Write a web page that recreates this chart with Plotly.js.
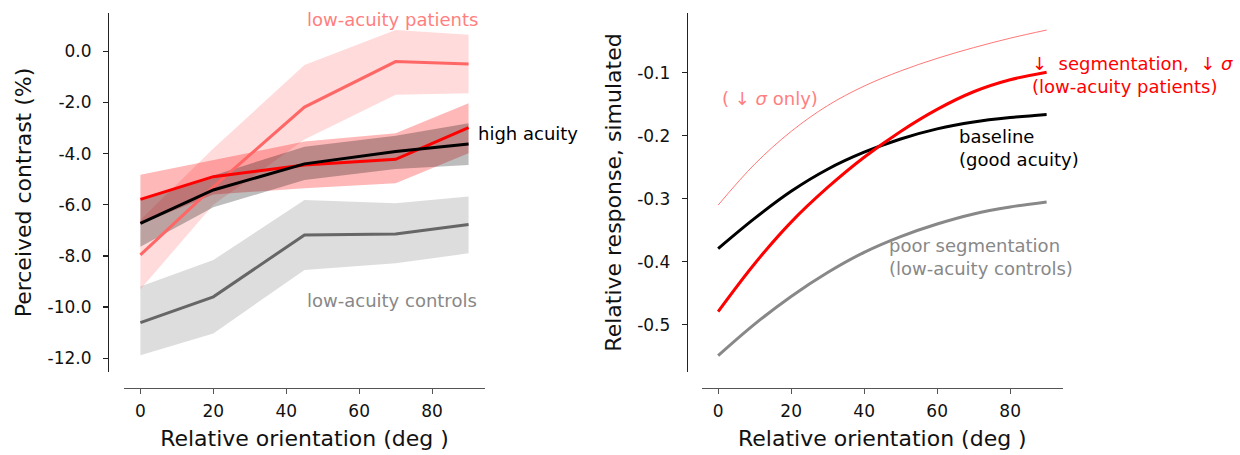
<!DOCTYPE html>
<html>
<head>
<meta charset="utf-8">
<script src="https://cdn.plot.ly/plotly-3.0.1.min.js"></script>
<style>html,body{margin:0;padding:0;background:#fff;}#chart{width:1240px;height:455px;}</style>
</head>
<body>
<div id="chart"></div>
<script>
// ---- Left panel: measured perceived contrast ----
var orientations = [0, 20, 45, 70, 90];
var patientsMean  = [-7.96, -5.3, -2.18, -0.40, -0.49];
var patientsUpper = [-6.6, -3.8, -0.53, 0.84, 0.65];
var patientsLower = [-9.3, -6.0, -3.45, -1.70, -1.64];
var redMean  = [-5.79, -4.90, -4.44, -4.22, -2.98];
var redUpper = [-4.83, -4.26, -3.53, -3.2, -2.03];
var redLower = [-6.75, -5.6, -5.35, -5.16, -3.98];
var highMean  = [-6.73, -5.42, -4.40, -3.92, -3.62];
var highUpper = [-5.83, -4.85, -3.73, -3.3, -2.81];
var highLower = [-7.64, -6.1, -5.03, -4.6, -4.44];
var controlsMean  = [-10.61, -9.60, -7.18, -7.14, -6.77];
var controlsUpper = [-9.2, -8.16, -5.81, -5.94, -5.68];
var controlsLower = [-11.88, -11.03, -8.55, -8.29, -7.9];
var leftYTicks = [0, -2, -4, -6, -8, -10, -12];
var leftYTickText = ["0.0", "-2.0", "-4.0", "-6.0", "-8.0", "-10.0", "-12.0"];
var xTicks = [0, 20, 40, 60, 80];

// ---- Right panel: simulated relative response ----
var simX = [0, 10, 20, 30, 40, 50, 60, 70, 80, 90];
var sigmaOnly    = [-0.310, -0.245, -0.193, -0.152, -0.121, -0.097, -0.077, -0.060, -0.045, -0.032];
var segSigma     = [-0.479, -0.403, -0.337, -0.282, -0.234, -0.193, -0.158, -0.130, -0.111, -0.099];
var baseline     = [-0.379, -0.331, -0.288, -0.253, -0.226, -0.205, -0.189, -0.178, -0.171, -0.166];
var poorSeg      = [-0.549, -0.499, -0.455, -0.417, -0.385, -0.360, -0.340, -0.324, -0.313, -0.305];
var rightYTicks = [-0.1, -0.2, -0.3, -0.4, -0.5];
var rightYTickText = ["-0.1", "-0.2", "-0.3", "-0.4", "-0.5"];

function band(xs, up, lo, color, xa, ya) {
  return {x: xs.concat(xs.slice().reverse()), y: up.concat(lo.slice().reverse()),
    fill: 'toself', fillcolor: color, line: {width: 0}, mode: 'lines',
    hoverinfo: 'skip', showlegend: false, xaxis: xa, yaxis: ya};
}
function line(xs, ys, color, w, xa, ya, shape) {
  return {x: xs, y: ys, mode: 'lines', line: {color: color, width: w, shape: shape || 'linear'},
    showlegend: false, xaxis: xa, yaxis: ya};
}

var traces = [
  band(orientations, controlsUpper, controlsLower, 'rgba(128,128,128,0.27)', 'x', 'y'),
  band(orientations, patientsUpper, patientsLower, 'rgba(255,90,90,0.22)', 'x', 'y'),
  band(orientations, redUpper, redLower, 'rgba(255,0,0,0.28)', 'x', 'y'),
  band(orientations, highUpper, highLower, 'rgba(0,0,0,0.26)', 'x', 'y'),
  line(orientations, controlsMean, '#666666', 3, 'x', 'y'),
  line(orientations, patientsMean, '#ff6666', 3, 'x', 'y'),
  line(orientations, redMean, '#ff0000', 3, 'x', 'y'),
  line(orientations, highMean, '#000000', 3, 'x', 'y'),
  line(simX, sigmaOnly, '#ff7777', 1, 'x2', 'y2', 'spline'),
  line(simX, poorSeg, '#888888', 3, 'x2', 'y2', 'spline'),
  line(simX, baseline, '#000000', 3, 'x2', 'y2', 'spline'),
  line(simX, segSigma, '#ff0000', 3, 'x2', 'y2', 'spline')
];

var F = 'DejaVu Sans, sans-serif';
var TS = 17;
var titleFont = {family: F, size: 22, color: '#111'};
var annSize = 18;

function xAxis(domain) {
  return {domain: domain, range: [-4.5, 94.5], tickvals: xTicks, ticks: 'outside', ticklen: 5, tickwidth: 1.2,
    tickcolor: '#555', showline: true, linecolor: '#555', linewidth: 1.3, showgrid: false, zeroline: false,
    tickfont: {family: F, size: TS, color: '#111'}, anchor: 'free', position: 0.148, ticklabelstandoff: 3,
    title: {text: 'Relative orientation (deg )', font: titleFont, standoff: 10}};
}
function yAxis(range, vals, txt, pos, title) {
  return {domain: [0.1824, 0.9714], range: range, tickmode: 'array', tickvals: vals, ticktext: txt,
    ticks: 'outside', ticklen: 5, tickwidth: 1.2, tickcolor: '#222',
    showline: true, linecolor: '#222', linewidth: 1.3, showgrid: false, zeroline: false,
    tickfont: {family: F, size: TS, color: '#111'}, anchor: 'free', position: pos, ticklabelstandoff: 8,
    title: {text: title, font: titleFont, standoff: 8}};
}

var layout = {
  width: 1240, height: 455,
  margin: {l: 0, r: 0, t: 0, b: 0},
  font: {family: F, size: TS, color: '#111'},
  paper_bgcolor: '#fff', plot_bgcolor: '#fff',
  showlegend: false,
  xaxis: xAxis([0.1, 0.3911]),
  yaxis: yAxis([-12.54, 1.5], leftYTicks, leftYTickText, 0.0871, 'Perceived contrast (%)'),
  xaxis2: xAxis([0.5659, 0.8573]),
  yaxis2: yAxis([-0.575, -0.005], rightYTicks, rightYTickText, 0.5538, 'Relative response, simulated'),
  annotations: [
    {text: 'low-acuity patients', x: 45.1, y: 1.23, xref: 'x', yref: 'y', xanchor: 'left', yanchor: 'middle',
      showarrow: false, font: {family: F, size: annSize, color: '#ff7f7f'}},
    {text: 'high acuity', x: 92.1, y: -3.23, xref: 'x', yref: 'y', xanchor: 'left', yanchor: 'middle',
      showarrow: false, font: {family: F, size: annSize, color: '#000'}},
    {text: 'low-acuity controls', x: 45.1, y: -9.73, xref: 'x', yref: 'y', xanchor: 'left', yanchor: 'middle',
      showarrow: false, font: {family: F, size: annSize, color: '#888'}},
    {text: '( \u2193 <i>σ</i> only)', x: 0.5, y: -0.140, xref: 'x2', yref: 'y2', xanchor: 'left', yanchor: 'middle',
      showarrow: false, font: {family: F, size: annSize, color: '#ff8080'}},
    {text: '\u2193\u00a0\u00a0segmentation,\u00a0\u00a0\u2193\u00a0<i>σ</i><br>(low-acuity patients)', x: 85.5, y: -0.1037,
      xref: 'x2', yref: 'y2', xanchor: 'left', yanchor: 'middle', align: 'left',
      showarrow: false, font: {family: F, size: annSize, color: '#ff0000'}},
    {text: 'baseline<br>(good acuity)', x: 65.4, y: -0.2187, xref: 'x2', yref: 'y2', xanchor: 'left', yanchor: 'middle',
      align: 'left', showarrow: false, font: {family: F, size: annSize, color: '#000'}},
    {text: 'poor segmentation<br>(low-acuity controls)', x: 46.4, y: -0.3925, xref: 'x2', yref: 'y2', xanchor: 'left',
      yanchor: 'middle', align: 'left', showarrow: false, font: {family: F, size: annSize, color: '#888'}}
  ]
};

Plotly.newPlot('chart', traces, layout, {displayModeBar: false, staticPlot: true});
</script>
</body>
</html>
